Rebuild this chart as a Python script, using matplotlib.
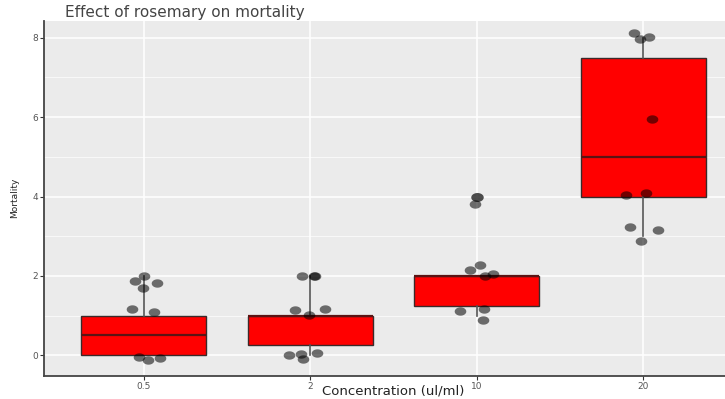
import numpy as np
import matplotlib
matplotlib.use("Agg")
import matplotlib.pyplot as plt
from matplotlib.path import Path

# concentrations (ul/ml) and the box summary for each group
concentrations = ["0.5", "2", "10", "20"]
q1 = [0.0, 0.25, 1.25, 4.0]
medians = [0.5, 1.0, 2.0, 5.0]
q3 = [1.0, 1.0, 2.0, 7.5]
whisker_low = [0.0, 0.0, 1.0, 3.0]
whisker_high = [2.0, 2.0, 2.0, 8.0]
outliers = [[], [], [4.0], []]

# jittered observations: horizontal jitter (in category units) and mortality
jit_05 = [0.0, -0.054, 0.078, -0.006, -0.072, 0.06, -0.03, 0.024, 0.096]
mort_05 = [2.0, 1.88, 1.83, 1.69, 1.16, 1.09, -0.04, -0.12, -0.07]
jit_2 = [-0.048, 0.024, 0.03, -0.09, 0.09, -0.006, -0.126, -0.054, -0.042, 0.042]
mort_2 = [1.99, 2.0, 2.0, 1.15, 1.17, 1.02, 0.02, 0.03, -0.08, 0.07]
jit_10 = [-0.012, 0.018, -0.042, 0.048, 0.096, 0.042, -0.102, 0.036]
mort_10 = [3.81, 2.27, 2.16, 2.01, 2.06, 1.17, 1.12, 0.89]
jit_20 = [-0.054, -0.018, 0.036, 0.054, -0.102, 0.018, -0.078, 0.09, -0.012]
mort_20 = [8.13, 7.96, 8.02, 5.96, 4.05, 4.08, 3.24, 3.16, 2.89]

jitters = [jit_05, jit_2, jit_10, jit_20]
mortality = [mort_05, mort_2, mort_10, mort_20]

# slightly wide ellipse used as point marker
t = np.linspace(0, 2 * np.pi, 40)
ellipse = Path(np.column_stack([np.cos(t), 0.72 * np.sin(t)]), closed=True)

fig = plt.figure(figsize=(7.25, 3.99), dpi=100)
ax = fig.add_axes([44 / 725, 23 / 399, 699 / 725, 355 / 399])
ax.set_facecolor("#EBEBEB")

pos = np.arange(1, len(concentrations) + 1)
stats = []
for i in range(len(concentrations)):
    stats.append(dict(q1=q1[i], med=medians[i], q3=q3[i],
                      whislo=whisker_low[i], whishi=whisker_high[i],
                      fliers=outliers[i]))

ax.bxp(stats, positions=pos, widths=0.75, patch_artist=True, showcaps=False,
       boxprops=dict(facecolor="#FF0000", edgecolor="#3a2a2a", linewidth=1.0),
       medianprops=dict(color="#5a1414", linewidth=1.6),
       whiskerprops=dict(color="#555555", linewidth=1.2),
       flierprops=dict(marker=ellipse, markersize=9, markerfacecolor="#222222",
                       markeredgecolor="none", alpha=0.8),
       zorder=2)

for i in range(len(concentrations)):
    xs = pos[i] + np.array(jitters[i])
    ax.scatter(xs, mortality[i], marker=ellipse, s=70, color="black",
               alpha=0.55, linewidths=0, zorder=3)

ax.set_xlim(0.4, 4.6)
ax.set_ylim(-0.52, 8.42)
ax.set_xticks(pos)
ax.set_xticklabels(concentrations)
ax.set_yticks([0, 2, 4, 6, 8])
ax.set_yticks([1, 3, 5, 7], minor=True)

ax.grid(True, which="major", color="white", linewidth=1.1)
ax.grid(True, which="minor", axis="y", color="white", linewidth=0.5)
ax.set_axisbelow(True)

for side in ["top", "right"]:
    ax.spines[side].set_visible(False)
for side in ["left", "bottom"]:
    ax.spines[side].set_color("#444444")
    ax.spines[side].set_linewidth(1.3)

ax.tick_params(axis="both", which="major", length=3, width=0.8, color="#333333",
               labelsize=6.5, labelcolor="#555555", pad=1)
ax.tick_params(axis="both", which="minor", length=0)

fig.text(393 / 725, 1 - 391 / 399, "Concentration (ul/ml)", fontsize=9.5,
         color="#222222", ha="center", va="center")
fig.text(15 / 725, 1 - 198 / 399, "Mortality", rotation=90, fontsize=6.5,
         color="#222222", ha="center", va="center")
fig.text(65 / 725, 1 - 13 / 399, "Effect of rosemary on mortality", fontsize=11,
         color="#444444", ha="left", va="center")

fig.savefig("out.png", dpi=100)
